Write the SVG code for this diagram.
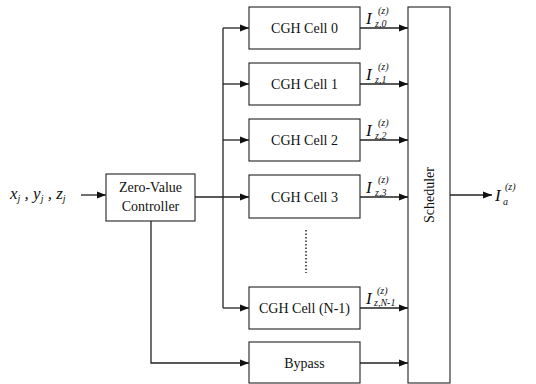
<svg xmlns="http://www.w3.org/2000/svg" width="536" height="384" viewBox="0 0 536 384">
<style>
.box{fill:#fff;stroke:#222;stroke-width:1.1}
.ln{fill:none;stroke:#222;stroke-width:1.3}
.t{font-family:"Liberation Serif",serif;font-size:14px;fill:#111;text-anchor:middle}
.m{font-family:"Liberation Serif",serif;font-style:italic;fill:#111}
.I{font-size:17px}
.s{font-size:10px}
</style>
<defs>
<marker id="ah" markerWidth="10" markerHeight="8" refX="9" refY="4" orient="auto" markerUnits="userSpaceOnUse">
<path d="M0,0.5 L9,4 L0,7.5 Z" fill="#111"/>
</marker>
</defs>
<rect width="536" height="384" fill="#fff"/>
<g id="connectors">
<path class="ln" d="M81,195 H106" marker-end="url(#ah)"/>
<path class="ln" d="M195,197 H249" marker-end="url(#ah)"/>
<path class="ln" d="M223,308 V28"/>
<path class="ln" d="M223,28 H249" marker-end="url(#ah)"/>
<path class="ln" d="M223,84 H249" marker-end="url(#ah)"/>
<path class="ln" d="M223,140 H249" marker-end="url(#ah)"/>
<path class="ln" d="M223,308 H249" marker-end="url(#ah)"/>
<path class="ln" d="M151,221 V363 H249" marker-end="url(#ah)"/>
<path class="ln" d="M360,28 H408" marker-end="url(#ah)"/>
<path class="ln" d="M360,84 H408" marker-end="url(#ah)"/>
<path class="ln" d="M360,140 H408" marker-end="url(#ah)"/>
<path class="ln" d="M360,197 H408" marker-end="url(#ah)"/>
<path class="ln" d="M360,308 H408" marker-end="url(#ah)"/>
<path class="ln" d="M360,363 H408" marker-end="url(#ah)"/>
<path class="ln" d="M450,195 H492" marker-end="url(#ah)"/>
<path d="M306,230 V273" fill="none" stroke="#222" stroke-width="1.5" stroke-dasharray="1.5,2"/>
</g>
<g id="input">
<text class="m" x="10" y="199" font-size="17">x<tspan font-size="10" dy="3">j</tspan><tspan dy="-3" xml:space="preserve"> , y</tspan><tspan font-size="10" dy="3">j</tspan><tspan dy="-3" xml:space="preserve"> , z</tspan><tspan font-size="10" dy="3">j</tspan></text>
</g>
<g id="controller">
<rect class="box" x="106" y="174" width="89" height="47"/>
<text class="t" x="150.5" y="192">Zero-Value</text>
<text class="t" x="150.5" y="211">Controller</text>
</g>
<g id="cell0">
<rect class="box" x="249" y="7" width="111" height="42"/>
<text class="t" x="304.5" y="33">CGH Cell 0</text>
</g>
<g id="cell1">
<rect class="box" x="249" y="63" width="111" height="42"/>
<text class="t" x="304.5" y="89">CGH Cell 1</text>
</g>
<g id="cell2">
<rect class="box" x="249" y="119" width="111" height="42"/>
<text class="t" x="304.5" y="145">CGH Cell 2</text>
</g>
<g id="cell3">
<rect class="box" x="249" y="175" width="111" height="43"/>
<text class="t" x="304.5" y="202">CGH Cell 3</text>
</g>
<g id="cellN1">
<rect class="box" x="249" y="287" width="111" height="42"/>
<text class="t" x="304.5" y="313">CGH Cell (N-1)</text>
</g>
<g id="bypass">
<rect class="box" x="249" y="342" width="111" height="41"/>
<text class="t" x="304.5" y="368">Bypass</text>
</g>
<g id="scheduler">
<rect class="box" x="408" y="7" width="42" height="376"/>
<text class="t" x="0" y="0" transform="translate(434,195) rotate(-90)">Scheduler</text>
</g>
<g id="labels">
<text class="m I" x="366" y="24">I</text><text class="m s" x="378" y="14">(z)</text><text class="m s" x="375" y="27">z,0</text>
<text class="m I" x="366" y="80">I</text><text class="m s" x="378" y="70">(z)</text><text class="m s" x="375" y="83">z,1</text>
<text class="m I" x="366" y="136">I</text><text class="m s" x="378" y="126">(z)</text><text class="m s" x="375" y="139">z,2</text>
<text class="m I" x="366" y="193">I</text><text class="m s" x="378" y="183">(z)</text><text class="m s" x="375" y="196">z,3</text>
<text class="m I" x="366" y="304">I</text><text class="m s" x="377" y="294">(z)</text><text class="m s" x="374" y="306">z,N-1</text>
<text class="m I" x="495" y="201">I</text><text class="m s" x="505" y="190">(z)</text><text class="m s" x="503" y="205">a</text>
</g>
</svg>
